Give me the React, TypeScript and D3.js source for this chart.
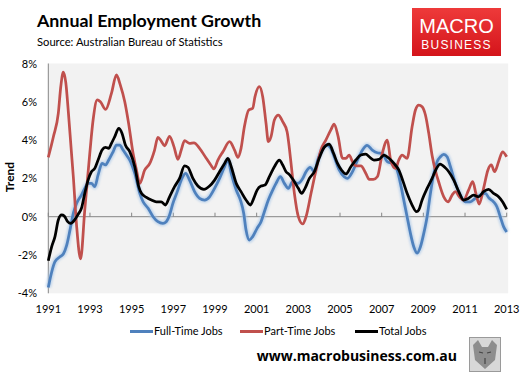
import React from "react";
import * as d3 from "d3";

type Pt = [number, number];

const fullTime: Pt[] = [
  [1991.0, -3.7], [1991.16, -2.9], [1991.32, -2.35], [1991.56, -2.09], [1991.72, -1.95], [1991.88, -1.5],
  [1992.04, -0.7], [1992.2, 0.17], [1992.36, 0.7], [1992.59, 1.13], [1992.75, 1.48], [1992.91, 1.74],
  [1993.07, 1.74], [1993.23, 1.57], [1993.39, 2.18], [1993.58, 2.78], [1993.74, 2.7], [1993.9, 2.96],
  [1994.11, 3.39], [1994.27, 3.74], [1994.43, 3.74], [1994.59, 3.48], [1994.75, 3.22], [1994.91, 2.96],
  [1995.15, 2.26], [1995.39, 1.22], [1995.55, 0.78], [1995.79, 0.44], [1996.03, 0.0], [1996.26, -0.26],
  [1996.5, -0.35], [1996.66, -0.26], [1996.82, 0.09], [1996.98, 0.7], [1997.19, 1.31], [1997.38, 1.91],
  [1997.59, 2.26], [1997.78, 1.91], [1998.02, 1.31], [1998.26, 0.96], [1998.5, 0.87], [1998.74, 1.04],
  [1998.98, 1.48], [1999.22, 2.0], [1999.46, 2.61], [1999.62, 2.96], [1999.78, 2.26], [2000.02, 1.39],
  [2000.22, 0.87], [2000.38, 0.17], [2000.49, -0.7], [2000.65, -1.22], [2000.81, -1.04], [2001.02, -0.61],
  [2001.21, -0.26], [2001.37, 0.26], [2001.56, 0.87], [2001.77, 1.39], [2001.93, 1.74], [2002.14, 2.09],
  [2002.33, 1.74], [2002.52, 1.48], [2002.73, 1.83], [2002.97, 1.74], [2003.21, 2.0], [2003.37, 2.35],
  [2003.57, 2.58], [2003.77, 2.35], [2003.93, 2.96], [2004.16, 3.52], [2004.37, 3.74], [2004.56, 3.57],
  [2004.72, 3.13], [2004.96, 2.44], [2005.2, 2.09], [2005.36, 2.0], [2005.6, 2.35], [2005.84, 2.96],
  [2006.08, 3.48], [2006.3, 3.72], [2006.55, 3.48], [2006.79, 3.34], [2007.03, 3.31], [2007.27, 2.87],
  [2007.51, 2.78], [2007.74, 2.44], [2007.9, 1.74], [2008.06, 0.87], [2008.22, 0.0], [2008.38, -0.87],
  [2008.54, -1.57], [2008.7, -1.9], [2008.86, -1.57], [2009.02, -0.87], [2009.18, 0.0], [2009.34, 1.22],
  [2009.5, 2.26], [2009.66, 2.87], [2009.82, 3.13], [2009.98, 3.25], [2010.14, 3.13], [2010.3, 2.61],
  [2010.54, 1.74], [2010.77, 1.13], [2011.01, 0.78], [2011.25, 0.78], [2011.49, 0.96], [2011.73, 1.13],
  [2011.97, 1.22], [2012.16, 0.96], [2012.37, 0.78], [2012.53, 0.52], [2012.69, 0.0], [2012.85, -0.52],
  [2013.0, -0.8],
];

const partTime: Pt[] = [
  [1991.0, 3.1], [1991.25, 4.2], [1991.48, 5.4], [1991.6, 6.8], [1991.72, 7.55], [1991.84, 7.0],
  [1991.96, 5.5], [1992.1, 3.5], [1992.2, 2.1], [1992.36, -0.5], [1992.55, -2.2], [1992.75, 0.35],
  [1992.99, 3.3], [1993.15, 5.05], [1993.35, 6.1], [1993.5, 6.0], [1993.75, 5.6], [1994.03, 6.44],
  [1994.27, 7.4], [1994.45, 6.9], [1994.67, 6.0], [1994.85, 4.9], [1995.07, 3.3], [1995.23, 2.44],
  [1995.39, 1.74], [1995.63, 2.44], [1995.87, 2.78], [1996.1, 3.48], [1996.26, 4.14], [1996.42, 3.95],
  [1996.58, 3.7], [1996.82, 4.2], [1997.03, 3.66], [1997.22, 3.0], [1997.38, 3.48], [1997.54, 3.97],
  [1997.78, 3.83], [1997.99, 3.86], [1998.26, 3.57], [1998.58, 3.05], [1998.8, 2.7], [1998.95, 2.5],
  [1999.14, 2.96], [1999.38, 3.39], [1999.7, 3.92], [1999.94, 3.48], [2000.1, 3.1], [2000.25, 3.57],
  [2000.41, 4.7], [2000.62, 5.57], [2000.81, 5.66], [2000.92, 6.27], [2001.13, 6.79], [2001.29, 6.27],
  [2001.45, 4.87], [2001.56, 3.92], [2001.69, 4.18], [2001.85, 5.05], [2002.04, 5.31], [2002.25, 4.96],
  [2002.46, 4.44], [2002.57, 3.57], [2002.65, 2.78], [2002.81, 1.22], [2003.0, 0.0], [2003.21, -0.38],
  [2003.37, 0.0], [2003.61, 1.22], [2003.85, 2.44], [2004.08, 3.48], [2004.32, 4.0], [2004.56, 4.53],
  [2004.72, 4.84], [2004.91, 4.18], [2005.12, 3.05], [2005.28, 3.05], [2005.44, 3.22], [2005.6, 2.87],
  [2005.76, 2.65], [2006.0, 2.65], [2006.24, 2.26], [2006.4, 1.95], [2006.6, 1.95], [2006.8, 2.1],
  [2007.03, 3.31], [2007.27, 4.0], [2007.43, 2.96], [2007.67, 2.52], [2007.82, 2.96], [2007.98, 3.22],
  [2008.22, 3.05], [2008.46, 4.7], [2008.62, 5.57], [2008.78, 5.83], [2008.94, 5.74], [2009.1, 5.31],
  [2009.26, 4.35], [2009.42, 3.2], [2009.58, 2.4], [2009.74, 1.8], [2009.98, 1.04], [2010.19, 0.78],
  [2010.38, 1.13], [2010.54, 1.31], [2010.73, 1.04], [2010.93, 0.87], [2011.17, 1.39], [2011.37, 1.83],
  [2011.52, 1.22], [2011.68, 0.66], [2011.89, 1.48], [2012.1, 2.44], [2012.26, 2.7], [2012.42, 2.35],
  [2012.61, 2.87], [2012.8, 3.39], [2013.0, 3.13],
];

const totalJobs: Pt[] = [
  [1991.0, -2.3], [1991.16, -1.57], [1991.32, -1.04], [1991.48, -0.17], [1991.64, 0.09], [1991.77, 0.03],
  [1991.93, -0.26], [1992.08, -0.35], [1992.28, -0.14], [1992.44, 0.14], [1992.59, 0.44], [1992.75, 1.22],
  [1992.91, 1.91], [1993.07, 2.35], [1993.23, 2.52], [1993.39, 2.96], [1993.58, 3.48], [1993.74, 3.62],
  [1993.9, 3.57], [1994.03, 3.83], [1994.19, 4.18], [1994.38, 4.61], [1994.54, 4.35], [1994.7, 3.74],
  [1994.91, 3.4], [1995.15, 2.61], [1995.34, 1.57], [1995.47, 1.22], [1995.71, 1.01], [1995.95, 0.87],
  [1996.18, 0.78], [1996.42, 0.78], [1996.62, 0.61], [1996.82, 1.04], [1997.06, 1.57], [1997.3, 2.0],
  [1997.54, 2.65], [1997.7, 2.58], [1997.94, 2.0], [1998.18, 1.6], [1998.47, 1.43], [1998.74, 1.6],
  [1998.98, 1.91], [1999.22, 2.35], [1999.46, 2.78], [1999.62, 3.05], [1999.78, 2.61], [2000.02, 1.74],
  [2000.25, 1.31], [2000.49, 0.87], [2000.7, 0.61], [2000.86, 0.96], [2001.02, 1.39], [2001.21, 1.6],
  [2001.4, 1.65], [2001.61, 2.09], [2001.85, 2.61], [2002.09, 2.96], [2002.25, 2.7], [2002.41, 2.35],
  [2002.57, 2.2], [2002.81, 1.83], [2003.0, 1.48], [2003.16, 1.22], [2003.32, 1.48], [2003.53, 2.0],
  [2003.77, 2.35], [2004.0, 3.05], [2004.24, 3.62], [2004.48, 3.79], [2004.69, 3.31], [2004.88, 2.78],
  [2005.07, 2.44], [2005.28, 2.23], [2005.52, 2.61], [2005.76, 2.96], [2006.0, 3.22], [2006.24, 3.27],
  [2006.4, 3.13], [2006.63, 2.96], [2006.87, 2.99], [2007.11, 3.22], [2007.35, 3.05], [2007.59, 2.78],
  [2007.82, 2.44], [2008.03, 1.83], [2008.22, 1.22], [2008.46, 0.61], [2008.67, 0.26], [2008.78, 0.35],
  [2008.94, 0.87], [2009.18, 1.48], [2009.42, 2.0], [2009.63, 2.52], [2009.8, 2.75], [2010.06, 2.55],
  [2010.22, 2.35], [2010.46, 1.91], [2010.7, 1.31], [2010.93, 0.87], [2011.17, 0.96], [2011.41, 1.13],
  [2011.65, 1.04], [2011.89, 1.31], [2012.13, 1.43], [2012.37, 1.22], [2012.61, 1.04], [2012.8, 0.78],
  [2013.0, 0.38],
];

const yTicks = [-4, -2, 0, 2, 4, 6, 8];
const xTicks = [1991, 1993, 1995, 1997, 1999, 2001, 2003, 2005, 2007, 2009, 2011, 2013];
const seriesNames = ["Full-Time Jobs", "Part-Time Jobs", "Total Jobs"];
const seriesColors = ["#4F81BD", "#C0504D", "#000000"];

const FONT = "Lato, 'Open Sans', sans-serif";

export default function App() {
  const W = 527, H = 374;
  const x = d3.scaleLinear().domain([1991, 2013]).range([48.3, 506.7]);
  const y = d3.scaleLinear().domain([-4, 8]).range([293.3, 63.5]);
  const line = d3.line<Pt>().x(d => x(d[0])).y(d => y(d[1])).curve(d3.curveMonotoneX);

  const legendX = [130, 240, 355];

  return (
    <svg width={W} height={H} style={{ position: "absolute", left: 0, top: 0, background: "#fff" }}>
      <defs>
        <filter id="glow" x="-5%" y="-20%" width="110%" height="140%">
          <feGaussianBlur stdDeviation="1.3" />
        </filter>
        <linearGradient id="logoGrad" x1="0" y1="0" x2="0" y2="1">
          <stop offset="0" stopColor="#EE3A3A" />
          <stop offset="1" stopColor="#D4141B" />
        </linearGradient>
      </defs>
      <rect x={0} y={0} width={W} height={H} fill="#fff" />

      {/* Title */}
      <text x={37} y={27} fontFamily={FONT} fontWeight="bold" fontSize={17.8} fill="#000">
        Annual Employment Growth
      </text>
      <text x={37} y={46} fontFamily={FONT} fontSize={11.2} fill="#000">
        Source: Australian Bureau of Statistics
      </text>

      {/* Logo */}
      <rect x={412} y={8} width={89} height={48} fill="url(#logoGrad)" />
      <text x={456.5} y={33} textAnchor="middle" fontFamily="'Liberation Sans', Arial, sans-serif" fontSize={20} fill="#fff">
        MACRO
      </text>
      <text x={456.5} y={49} textAnchor="middle" fontFamily="'Liberation Sans', Arial, sans-serif" fontSize={12} letterSpacing={1.2} fill="#fff">
        BUSINESS
      </text>

      {/* Plot background */}
      <rect x={x(1991)} y={y(8)} width={x(2013) - x(1991) + 1.5} height={y(-4) - y(8)} fill="#F2F2F2" />
      <line x1={x(1991)} x2={x(1991)} y1={y(8)} y2={y(-4)} stroke="#868686" strokeWidth={1} />
      <line x1={x(1991)} x2={x(2013)} y1={y(0)} y2={y(0)} stroke="#868686" strokeWidth={1} />
      {xTicks.map(t => (
        <line key={t} x1={x(t)} x2={x(t)} y1={y(0)} y2={y(0) - 4} stroke="#868686" strokeWidth={1} />
      ))}

      {/* Y tick labels */}
      {yTicks.map(t => (
        <text key={t} x={37} y={y(t) + 4} textAnchor="end" fontFamily={FONT} fontSize={11} fill="#000">
          {`${t}%`}
        </text>
      ))}
      {/* X tick labels */}
      {xTicks.map(t => (
        <text key={t} x={x(t)} y={313} textAnchor="middle" fontFamily={FONT} fontSize={11} fill="#000">
          {t}
        </text>
      ))}
      <text transform="translate(14,177) rotate(-90)" textAnchor="middle" fontFamily={FONT} fontWeight="bold" fontSize={12} fill="#000">
        Trend
      </text>

      {/* Series */}
      <path d={line(fullTime) || ""} fill="none" stroke="#A9C8E8" strokeWidth={5.5} strokeOpacity={0.7} filter="url(#glow)" />
      <path d={line(fullTime) || ""} fill="none" stroke={seriesColors[0]} strokeWidth={2.75} strokeLinejoin="round" />
      <path d={line(partTime) || ""} fill="none" stroke={seriesColors[1]} strokeWidth={2.75} strokeLinejoin="round" />
      <path d={line(totalJobs) || ""} fill="none" stroke={seriesColors[2]} strokeWidth={2.75} strokeLinejoin="round" />

      {/* Legend */}
      {seriesNames.map((n, i) => (
        <g key={n}>
          <line x1={legendX[i]} x2={legendX[i] + 23} y1={331.5} y2={331.5} stroke={seriesColors[i]} strokeWidth={3} />
          <text x={legendX[i] + 24} y={335} fontFamily={FONT} fontSize={11} fill="#000">
            {n}
          </text>
        </g>
      ))}

      {/* Footer */}
      <text x={457} y={361} textAnchor="end" fontFamily="'Open Sans', 'DejaVu Sans', sans-serif" fontWeight="bold" fontSize={14} fill="#000">
        www.macrobusiness.com.au
      </text>
      <rect x={469.5} y={337.5} width={31} height={34} fill="#D8D8D8" stroke="#9A9A9A" strokeWidth={1} />
      <path d="M473,345 L478,340 L482,347 L488,347 L492,340 L497,345 L495,360 L485,369 L475,360 Z" fill="#8E8E8E" />
      <path d="M479,352 L483,353 M487,353 L491,352 M485,358 L485,364" stroke="#444" strokeWidth={1.2} />
    </svg>
  );
}
